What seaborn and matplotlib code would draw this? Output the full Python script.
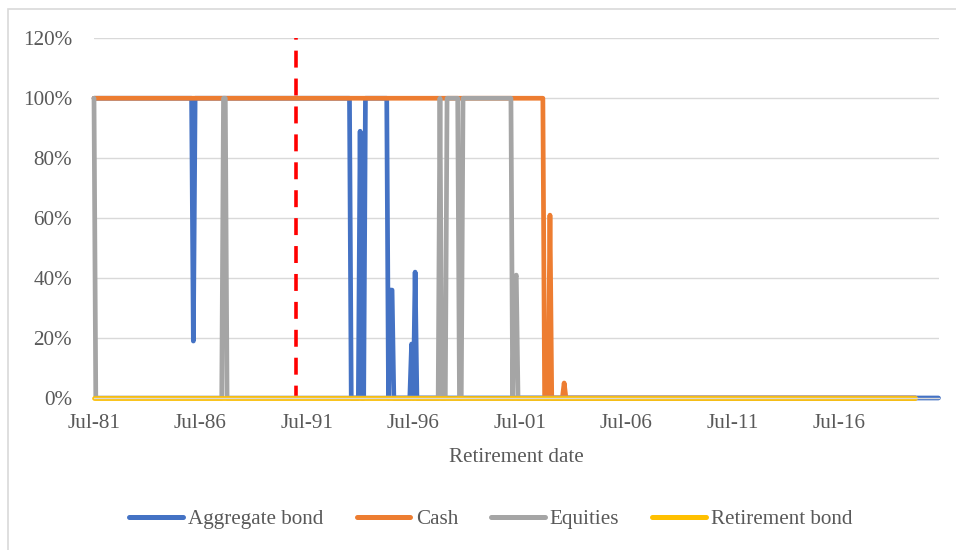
import numpy as np
import pandas as pd
import matplotlib
matplotlib.use("Agg")
import matplotlib.pyplot as plt
from matplotlib.patches import Rectangle
import seaborn as sns

# Allocation (%) for each monthly retirement cohort, first cohort Jul-81.
# Each series is stored as runs of (value, number of consecutive months).
aggregate_bond_runs = [(100, 56), (19, 1), (100, 88), (0, 5), (89, 1), (0, 2),
                       (100, 13), (0, 1), (36, 2), (0, 10), (18, 1), (0, 1),
                       (42, 1), (0, 295)]
cash_runs = [(100, 254), (0, 3), (61, 1), (0, 7), (5, 1), (0, 198)]
equities_runs = [(100, 1), (0, 72), (100, 2), (0, 120), (100, 1), (0, 3),
                 (100, 7), (0, 2), (100, 28), (0, 1), (39, 1), (41, 1), (0, 225)]
retirement_bond_runs = [(0, 464)]

series_names = ["Aggregate bond", "Cash", "Equities", "Retirement bond"]
series_runs = [aggregate_bond_runs, cash_runs, equities_runs, retirement_bond_runs]
series_colors = ["#4472C4", "#ED7D31", "#A5A5A5", "#FFC000"]

x_tick_positions = [0, 60, 120, 180, 240, 300, 360, 420]
x_tick_labels = ["Jul-81", "Jul-86", "Jul-91", "Jul-96", "Jul-01", "Jul-06", "Jul-11", "Jul-16"]
y_tick_values = [0, 20, 40, 60, 80, 100, 120]
y_tick_labels = ["0%", "20%", "40%", "60%", "80%", "100%", "120%"]
n_months = 477          # Jul-81 .. Mar-21
cutoff_month = 114      # Jan-91 marker

TEXT = "#595959"
GRID = "#D9D9D9"
FS = 15.2

sns.set_style("white")
plt.rcParams["font.family"] = ["Liberation Serif", "DejaVu Serif"]
plt.rcParams["lines.scale_dashes"] = False
plt.rcParams["lines.solid_capstyle"] = "round"
plt.rcParams["lines.solid_joinstyle"] = "round"


def expand(runs):
    return np.concatenate([np.full(count, value, dtype=float) for value, count in runs])


frames = []
for name, runs in zip(series_names, series_runs):
    vals = expand(runs)
    frames.append(pd.DataFrame({"month": np.arange(len(vals)), "share": vals, "series": name}))
df = pd.concat(frames, ignore_index=True)

fig = plt.figure(figsize=(9.56, 5.5), dpi=100)
ax = fig.add_axes([94 / 956, 1 - 398 / 550, (938.5 - 94) / 956, (398 - 38.3) / 550])

# Retirement-date marker
ax.plot([cutoff_month, cutoff_month], [120, 0], color="#FF0000", lw=2.6,
        linestyle=(11.0, (12.2, 7.9)), solid_capstyle="butt", zorder=1.5, clip_on=False)

sns.lineplot(data=df, x="month", y="share", hue="series", hue_order=series_names,
             palette=dict(zip(series_names, series_colors)), linewidth=3.4,
             estimator=None, sort=False, ax=ax, zorder=2)
for line in ax.lines:
    line.set_clip_on(False)

ax.set_xlim(0, n_months - 1)
ax.set_ylim(0, 120)
ax.set_xticks(x_tick_positions)
ax.set_xticklabels(x_tick_labels)
ax.set_yticks(y_tick_values)
ax.set_yticklabels(y_tick_labels)
ax.set_xlabel("")
ax.set_ylabel("")

ax.grid(axis="y", color=GRID, lw=1.0)
ax.grid(axis="x", visible=False)
ax.set_axisbelow(True)
for side in ["top", "right", "left"]:
    ax.spines[side].set_visible(False)
ax.spines["bottom"].set_color(GRID)
ax.spines["bottom"].set_linewidth(1.0)

ax.tick_params(axis="x", length=3.5, width=1, color=GRID, pad=8,
               labelsize=FS, labelcolor=TEXT)
ax.tick_params(axis="y", length=0, pad=15.8, labelsize=FS, labelcolor=TEXT)

fig.text(516 / 956, 1 - 461.7 / 550, "Retirement date", ha="center", va="baseline",
         fontsize=FS, color=TEXT)

handles, labels = ax.get_legend_handles_labels()
if ax.get_legend() is not None:
    ax.get_legend().remove()
leg = fig.legend(handles, labels, loc="center", bbox_to_anchor=(491 / 956, 1 - 519 / 550),
                 ncol=4, frameon=False, fontsize=FS, handlelength=2.55,
                 handletextpad=0.25, columnspacing=1.55, labelcolor=TEXT)
for h in leg.legend_handles:
    h.set_linewidth(3.6)

# Chart-area border
fig.patches.append(Rectangle((7.5 / 956, -0.2), 2.0, 1 - 9 / 550 + 0.2,
                             transform=fig.transFigure, fill=False,
                             edgecolor=GRID, lw=1.2, zorder=0))

fig.savefig("out.png", dpi=100)
